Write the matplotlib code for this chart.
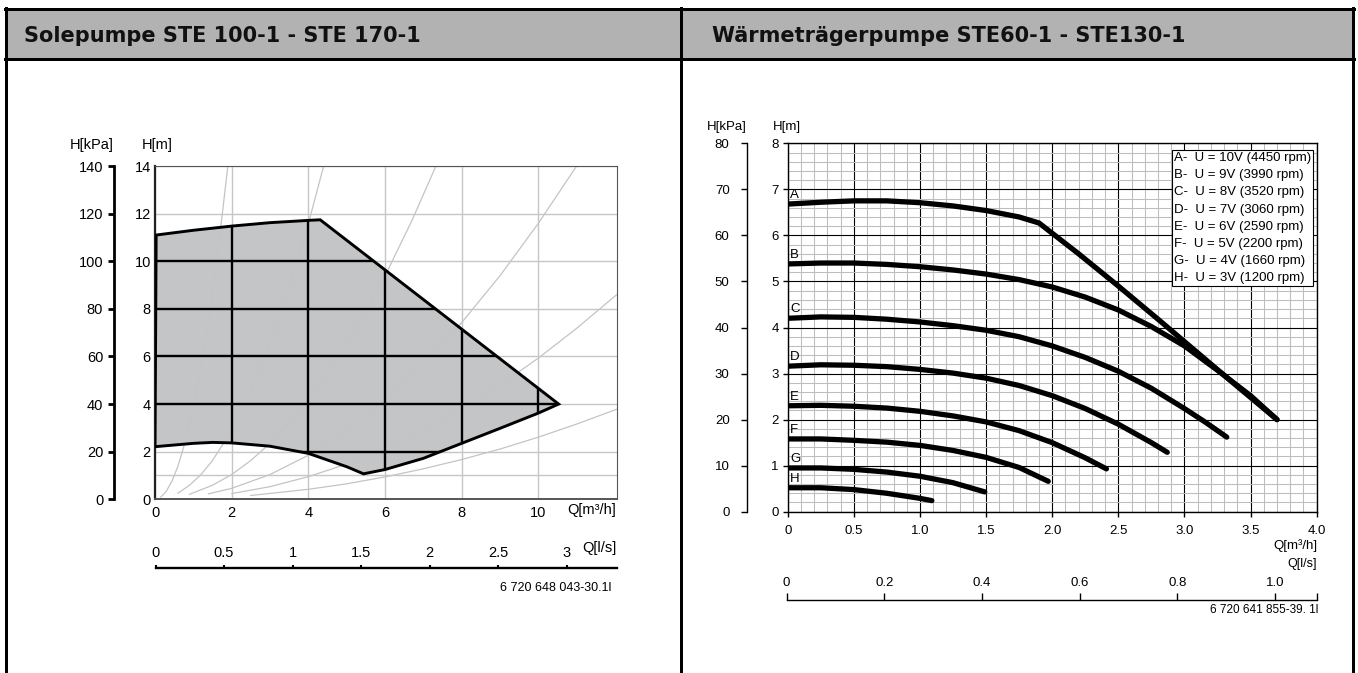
import matplotlib
matplotlib.use('Agg')
import matplotlib.pyplot as plt
from matplotlib.patches import Polygon, Rectangle

plt.rcParams['font.family'] = ['Liberation Sans', 'DejaVu Sans']

# ---------------- data ----------------
left_title = 'Solepumpe STE 100-1 - STE 170-1'
right_title = 'Wärmeträgerpumpe STE60-1 - STE130-1'

# Left chart: operating envelope (Q [m3/h], H [m])
env_q = [0.0, 0.03, 1.0, 2.03, 3.0, 4.05, 4.31, 10.53, 10.0, 9.0, 8.0, 7.0, 6.0,
         5.44, 5.0, 4.0, 3.0, 2.0, 1.5, 1.0, 0.0]
env_h = [2.21, 11.1, 11.3, 11.48, 11.62, 11.72, 11.74, 4.0, 3.62, 2.98, 2.35, 1.72, 1.25,
         1.07, 1.37, 1.93, 2.23, 2.37, 2.39, 2.35, 2.21]

# Left chart: light system curves
guide1_q = [0.15, 0.3, 0.45, 0.6, 0.8, 1.0, 1.2, 1.4, 1.6, 1.75, 1.9]
guide1_h = [0.09, 0.35, 0.79, 1.4, 2.48, 3.88, 5.59, 7.6, 9.93, 11.9, 14.0]
guide2_q = [0.6, 0.9, 1.2, 1.5, 2.0, 2.5, 3.0, 3.5, 4.0, 4.4]
guide2_h = [0.26, 0.59, 1.04, 1.63, 2.89, 4.52, 6.5, 8.86, 11.57, 14.0]
guide3_q = [0.9, 1.5, 2.0, 2.5, 3.0, 4.0, 5.0, 6.0, 6.7, 7.33]
guide3_h = [0.21, 0.59, 1.04, 1.63, 2.35, 4.17, 6.5, 9.38, 11.7, 14.0]
guide4_q = [1.4, 2.0, 3.0, 4.0, 5.0, 6.0, 7.0, 8.0, 9.0, 10.0, 11.0]
guide4_h = [0.23, 0.46, 1.04, 1.85, 2.9, 4.17, 5.68, 7.42, 9.39, 11.59, 14.0]
guide5_q = [2.0, 3.0, 4.0, 5.0, 6.0, 7.0, 8.0, 9.0, 10.0, 11.0, 12.04]
guide5_h = [0.24, 0.53, 0.95, 1.48, 2.13, 2.9, 3.8, 4.8, 5.93, 7.18, 8.59]
guide6_q = [2.5, 4.0, 5.0, 6.0, 7.0, 8.0, 9.0, 10.0, 11.0, 12.04]
guide6_h = [0.16, 0.42, 0.65, 0.94, 1.28, 1.67, 2.11, 2.61, 3.16, 3.78]

left_q_ticks = [0, 2, 4, 6, 8, 10]
left_m_ticks = [0, 2, 4, 6, 8, 10, 12, 14]
left_kpa_ticks = [0, 20, 40, 60, 80, 100, 120, 140]
left_ls_ticks = [0, 0.5, 1, 1.5, 2, 2.5, 3]
left_ls_labels = ['0', '0.5', '1', '1.5', '2', '2.5', '3']
left_code = '6 720 648 043-30.1l'

# Right chart: pump curves A..H (Q [m3/h], H [m])
qA = [0, 0.25, 0.5, 0.75, 1.0, 1.25, 1.5, 1.75, 1.9, 2.2, 2.5, 2.8, 3.1, 3.4, 3.7]
hA = [6.68, 6.72, 6.75, 6.75, 6.71, 6.64, 6.54, 6.40, 6.27, 5.60, 4.90, 4.18, 3.45, 2.72, 2.0]
qB = [0, 0.25, 0.5, 0.75, 1.0, 1.25, 1.5, 1.75, 2.0, 2.25, 2.5, 2.75, 3.0, 3.25, 3.5, 3.7]
hB = [5.38, 5.40, 5.40, 5.37, 5.32, 5.25, 5.16, 5.04, 4.88, 4.66, 4.38, 4.02, 3.60, 3.07, 2.52, 2.0]
qC = [0, 0.25, 0.5, 0.75, 1.0, 1.25, 1.5, 1.75, 2.0, 2.25, 2.5, 2.75, 3.0, 3.16, 3.32]
hC = [4.20, 4.23, 4.22, 4.18, 4.12, 4.04, 3.94, 3.80, 3.60, 3.35, 3.05, 2.68, 2.24, 1.94, 1.62]
qD = [0, 0.25, 0.5, 0.75, 1.0, 1.25, 1.5, 1.75, 2.0, 2.25, 2.5, 2.75, 2.87]
hD = [3.16, 3.19, 3.18, 3.15, 3.09, 3.01, 2.90, 2.74, 2.52, 2.24, 1.90, 1.50, 1.29]
qE = [0, 0.25, 0.5, 0.75, 1.0, 1.25, 1.5, 1.75, 2.0, 2.25, 2.41]
hE = [2.30, 2.31, 2.29, 2.25, 2.18, 2.08, 1.95, 1.76, 1.50, 1.17, 0.93]
qF = [0, 0.25, 0.5, 0.75, 1.0, 1.25, 1.5, 1.75, 1.97]
hF = [1.58, 1.58, 1.55, 1.51, 1.44, 1.33, 1.18, 0.96, 0.66]
qG = [0, 0.25, 0.5, 0.75, 1.0, 1.25, 1.49]
hG = [0.95, 0.95, 0.92, 0.86, 0.77, 0.63, 0.43]
qH = [0, 0.25, 0.5, 0.75, 1.0, 1.09]
hH = [0.52, 0.52, 0.48, 0.40, 0.29, 0.24]

curve_names = ['A', 'B', 'C', 'D', 'E', 'F', 'G', 'H']
legend_labels = ['A-  U = 10V (4450 rpm)', 'B-  U = 9V (3990 rpm)',
                 'C-  U = 8V (3520 rpm)', 'D-  U = 7V (3060 rpm)',
                 'E-  U = 6V (2590 rpm)', 'F-  U = 5V (2200 rpm)',
                 'G-  U = 4V (1660 rpm)', 'H-  U = 3V (1200 rpm)']

right_q_ticks = [0, 0.5, 1.0, 1.5, 2.0, 2.5, 3.0, 3.5, 4.0]
right_q_labels = ['0', '0.5', '1.0', '1.5', '2.0', '2.5', '3.0', '3.5', '4.0']
right_m_ticks = [0, 1, 2, 3, 4, 5, 6, 7, 8]
right_kpa_ticks = [0, 10, 20, 30, 40, 50, 60, 70, 80]
right_ls_ticks = [0, 0.2, 0.4, 0.6, 0.8, 1.0]
right_ls_labels = ['0', '0.2', '0.4', '0.6', '0.8', '1.0']
right_code = '6 720 641 855-39. 1l'

# ---------------- layout ----------------
W, H = 1358, 673
fig = plt.figure(figsize=(W / 100, H / 100), dpi=100)
fig.patch.set_facecolor('white')


def add_ax_px(x0, y0, x1, y1, **kw):
    return fig.add_axes([x0 / W, 1 - y1 / H, (x1 - x0) / W, (y1 - y0) / H], **kw)


PX = 0.72  # points per pixel

# background / frame axes in pixel coordinates
bg = fig.add_axes([0, 0, 1, 1], zorder=-5)
bg.set_xlim(0, W)
bg.set_ylim(H, 0)
bg.axis('off')
bg.add_patch(Rectangle((5, 8), 1348, 51, facecolor='#b2b2b2', edgecolor='none'))
frame_lw = 3 * PX
bg.plot([5, 1354], [8.7, 8.7], color='black', lw=frame_lw, solid_capstyle='projecting')
bg.plot([5, 1354], [59, 59], color='black', lw=frame_lw)
for xv in (5.8, 680.5, 1353.3):
    bg.plot([xv, xv], [8, H + 5], color='black', lw=frame_lw)
bg.text(24, 42.5, left_title, fontsize=15, fontweight='bold', family='DejaVu Sans',
        va='baseline', ha='left', color='#111111')
bg.text(712.5, 42.5, right_title, fontsize=15, fontweight='bold', family='DejaVu Sans',
        va='baseline', ha='left', color='#111111')

# ---------------- left chart ----------------
FS_L = 10.5
ax1 = add_ax_px(155, 166, 616.5, 499.3)
ax1.set_xlim(0, 12.04)
ax1.set_ylim(0, 14)
ax1.set_xticks(left_q_ticks)
ax1.set_xticklabels([str(v) for v in left_q_ticks], fontsize=FS_L)
ax1.set_yticks(left_m_ticks)
ax1.set_yticklabels([str(v) for v in left_m_ticks], fontsize=FS_L)
ax1.set_yticks([1], minor=True)
ax1.tick_params(axis='both', which='both', length=0)
ax1.tick_params(axis='x', pad=4.5)
ax1.tick_params(axis='y', pad=3)
ax1.set_axisbelow('line')
ax1.grid(True, which='both', color='#c6c6c6', lw=1.0)
for s in ('top', 'right'):
    ax1.spines[s].set_color('#555555')
    ax1.spines[s].set_linewidth(0.8)
ax1.spines['bottom'].set_color('#555555')
ax1.spines['bottom'].set_linewidth(1.4)
ax1.spines['left'].set_color('#222222')
ax1.spines['left'].set_linewidth(1.6)

env_fill = Polygon(list(zip(env_q, env_h)), closed=True, facecolor='#c4c5c7',
                   edgecolor='none', zorder=1)
ax1.add_patch(env_fill)
for gq, gh in ((guide1_q, guide1_h), (guide2_q, guide2_h), (guide3_q, guide3_h),
               (guide4_q, guide4_h), (guide5_q, guide5_h), (guide6_q, guide6_h)):
    ax1.plot(gq, gh, color='#c4c4c4', lw=0.9, zorder=1.6)
vl = ax1.vlines(left_q_ticks[1:], 0, 14, color='black', lw=1.7, zorder=3)
hl = ax1.hlines(left_m_ticks[1:-1], 0, 12.04, color='black', lw=1.7, zorder=3)
vl.set_clip_path(env_fill)
hl.set_clip_path(env_fill)
ax1.add_patch(Polygon(list(zip(env_q, env_h)), closed=True, facecolor='none',
                      edgecolor='black', lw=2.1, joinstyle='miter', zorder=4))

# kPa axis
axk1 = add_ax_px(114, 166, 115, 499.3)
axk1.set_ylim(0, 140)
axk1.set_yticks(left_kpa_ticks)
axk1.set_yticklabels([str(v) for v in left_kpa_ticks], fontsize=FS_L)
axk1.set_xticks([])
for s in ('top', 'right', 'bottom'):
    axk1.spines[s].set_visible(False)
axk1.spines['left'].set_linewidth(2.0)
axk1.patch.set_visible(False)
axk1.tick_params(axis='y', length=4.3, width=2.0, pad=3.5)

bg.text(92, 145, 'H[kPa]', fontsize=FS_L, ha='center', va='center')
bg.text(157.5, 145, 'H[m]', fontsize=FS_L, ha='center', va='center')
bg.text(616.5, 510, 'Q[m³/h]', fontsize=FS_L, ha='right', va='center')

# l/s axis
axq1 = add_ax_px(155.5, 567, 616.7, 568)
axq1.set_xlim(0, 3.365)
axq1.set_xticks(left_ls_ticks)
axq1.set_xticklabels(left_ls_labels, fontsize=FS_L)
axq1.set_yticks([])
for s in ('top', 'right', 'left'):
    axq1.spines[s].set_visible(False)
axq1.spines['bottom'].set_linewidth(1.7)
axq1.patch.set_visible(False)
axq1.tick_params(axis='x', direction='in', length=2.5, width=1.5, bottom=True, top=False,
                 labelbottom=False, labeltop=True, pad=5.0)
bg.text(616.5, 548, 'Q[l/s]', fontsize=FS_L, ha='right', va='center')
bg.text(611, 587.7, left_code, fontsize=9, ha='right', va='center')

# ---------------- right chart ----------------
FS_R = 9.5
ax2 = add_ax_px(787.7, 143.3, 1316.7, 511.7)
ax2.set_xlim(0, 4)
ax2.set_ylim(0, 8)
ax2.set_xticks(right_q_ticks)
ax2.set_xticklabels(right_q_labels, fontsize=FS_R)
ax2.set_yticks(right_m_ticks)
ax2.set_yticklabels([str(v) for v in right_m_ticks], fontsize=FS_R)
ax2.set_xticks([i / 10 for i in range(41)], minor=True)
ax2.set_yticks([i / 5 for i in range(41)], minor=True)
ax2.tick_params(which='minor', length=0)
ax2.tick_params(axis='x', which='major', length=3.6, width=1.0, pad=6.0)
ax2.tick_params(axis='y', which='major', length=3.6, width=1.0, pad=2.7)
ax2.set_axisbelow(True)
ax2.grid(True, which='minor', color='#bdbdbd', lw=0.75)
ax2.grid(True, which='major', color='black', lw=0.8)
for s in ax2.spines.values():
    s.set_color('black')
    s.set_linewidth(1.0)

curves_q = [qA, qB, qC, qD, qE, qF, qG, qH]
curves_h = [hA, hB, hC, hD, hE, hF, hG, hH]
for name, lab, q, h in zip(curve_names, legend_labels, curves_q, curves_h):
    ax2.plot(q, h, color='black', lw=3.8, solid_capstyle='round',
             solid_joinstyle='round', label=lab, zorder=4)
    ax2.annotate(name, xy=(q[0], h[0]), xytext=(2.5, 9), textcoords='offset pixels',
                 fontsize=FS_R, ha='left', va='center', zorder=5)

leg = ax2.legend(loc='upper right', bbox_to_anchor=(0.993, 0.982), borderaxespad=0,
                 fontsize=FS_R, frameon=True, fancybox=False, edgecolor='black',
                 framealpha=1, borderpad=0.15, labelspacing=0.37, handlelength=0,
                 handletextpad=0)
leg.get_frame().set_linewidth(0.8)
for hnd in leg.legend_handles:
    hnd.set_visible(False)

# kPa axis
axk2 = add_ax_px(746.7, 143.3, 747.7, 511.7)
axk2.set_ylim(0, 80)
axk2.set_yticks(right_kpa_ticks)
axk2.set_yticklabels([str(v) for v in right_kpa_ticks], fontsize=FS_R)
axk2.set_xticks([])
for s in ('top', 'right', 'bottom'):
    axk2.spines[s].set_visible(False)
axk2.spines['left'].set_linewidth(1.0)
axk2.patch.set_visible(False)
axk2.tick_params(axis='y', length=4.3, width=1.0, pad=8.0)

bg.text(727, 127, 'H[kPa]', fontsize=FS_R, ha='center', va='center')
bg.text(787, 127, 'H[m]', fontsize=FS_R, ha='center', va='center')
bg.text(1318, 545.7, 'Q[m³/h]', fontsize=FS_R, ha='right', va='center')
bg.text(1316.5, 564, 'Q[l/s]', fontsize=9, ha='right', va='center')

# l/s axis
axq2 = add_ax_px(786.6, 598.5, 1316.6, 599.5)
axq2.set_xlim(0, 1.085)
axq2.set_xticks(right_ls_ticks + [1.085])
axq2.set_xticklabels(right_ls_labels + [''], fontsize=FS_R)
axq2.set_yticks([])
for s in ('top', 'right', 'left'):
    axq2.spines[s].set_visible(False)
axq2.spines['bottom'].set_linewidth(1.0)
axq2.patch.set_visible(False)
axq2.tick_params(axis='x', direction='in', length=5, width=1.0, bottom=True, top=False,
                 labelbottom=False, labeltop=True, pad=6.5)
bg.text(1318, 610, right_code, fontsize=8.5, ha='right', va='center')

fig.savefig('out.png', dpi=100, facecolor='white')
